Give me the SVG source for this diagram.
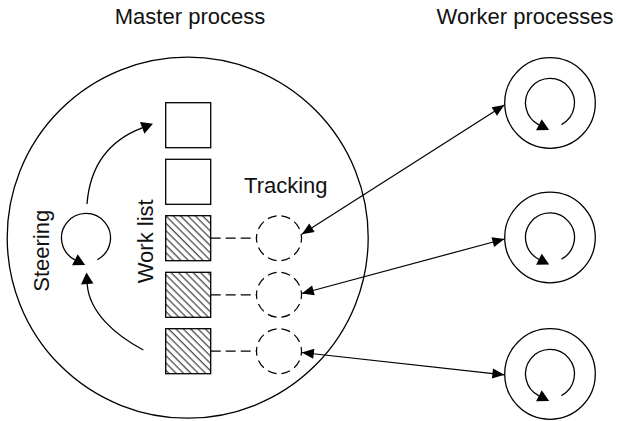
<svg xmlns="http://www.w3.org/2000/svg" width="617" height="421" viewBox="0 0 617 421">
<style>
text{font-family:"Liberation Sans",Arial,sans-serif;font-size:22px;fill:#111}
.ln{fill:none;stroke:#000;stroke-width:1.3}
.box{fill:#fff;stroke:#000;stroke-width:1.3}
.hbox{fill:url(#hatch);stroke:#000;stroke-width:1.3}
.trk{fill:none;stroke:#000;stroke-width:1.2;stroke-dasharray:9 5;stroke-dashoffset:4.5}
.dl{fill:none;stroke:#000;stroke-width:1.2;stroke-dasharray:10 5}
.loop{fill:none;stroke:#000;stroke-width:1.3;marker-end:url(#ah)}
.dbl{fill:none;stroke:#000;stroke-width:1.2;marker-start:url(#tip);marker-end:url(#tip)}
</style>
<defs>
<pattern id="hatch" patternUnits="userSpaceOnUse" width="5.2" height="10" patternTransform="rotate(-45)">
<line x1="1" y1="-1" x2="1" y2="11" stroke="#000" stroke-width="0.9"/>
</pattern>
<marker id="ah" markerUnits="userSpaceOnUse" markerWidth="13" markerHeight="13" refX="0" refY="6.25" orient="auto" overflow="visible">
<path d="M0,0 L11.5,6.25 L0,12.5 z" fill="#000"/>
</marker>
<marker id="tip" markerUnits="userSpaceOnUse" markerWidth="12" markerHeight="10" refX="12" refY="5" orient="auto-start-reverse" overflow="visible">
<path d="M0,0 L12,5 L0,10 z" fill="#000"/>
</marker>
</defs>

<text x="190" y="24.3" text-anchor="middle">Master process</text>
<text x="525" y="24" text-anchor="middle">Worker processes</text>

<g id="master">
<circle class="ln" cx="187.7" cy="237.7" r="180.5"/>
</g>

<g id="steering">
<path class="loop" d="M97.5,259.6 A24.5,24.5 0 1 0 74.9,259.8"/>
<text transform="translate(49.3,250.8) rotate(-90)" text-anchor="middle">Steering</text>
</g>

<g id="worklist">
<text transform="translate(153.3,241.3) rotate(-90)" text-anchor="middle">Work list</text>
<rect id="item1" class="box" x="165.7" y="102.7" width="45" height="45"/>
<rect id="item2" class="box" x="165.7" y="159.3" width="45" height="45"/>
<rect id="item3" class="hbox" x="165.7" y="215.7" width="45" height="45"/>
<rect id="item4" class="hbox" x="165.7" y="272.3" width="45" height="45"/>
<rect id="item5" class="hbox" x="165.7" y="328.7" width="45" height="45"/>
</g>

<g id="tracking">
<text x="285.8" y="192.7" text-anchor="middle">Tracking</text>
<circle id="track1" class="trk" cx="279" cy="238.2" r="22.5" pathLength="140"/>
<circle id="track2" class="trk" cx="279" cy="294.8" r="22.5" pathLength="140"/>
<circle id="track3" class="trk" cx="279" cy="351.2" r="22.5" pathLength="140"/>
</g>

<g id="worker1">
<circle class="ln" cx="550" cy="103" r="45.3"/>
<path class="loop" d="M561.5,124.6 A24.5,24.5 0 1 0 538.9,124.8"/>
</g>
<g id="worker2">
<circle class="ln" cx="550" cy="237.5" r="45.3"/>
<path class="loop" d="M561.5,259.1 A24.5,24.5 0 1 0 538.9,259.3"/>
</g>
<g id="worker3">
<circle class="ln" cx="550" cy="374" r="45.3"/>
<path class="loop" d="M561.5,395.6 A24.5,24.5 0 1 0 538.9,395.8"/>
</g>

<g id="connectors">
<path class="loop" d="M87,204 C90,165 110,140 142.2,127.8"/>
<path class="loop" d="M143.3,350 C115,335 89,312 87.2,284"/>
<line class="dl" x1="210.7" y1="238.2" x2="256.5" y2="238.2"/>
<line class="dl" x1="210.7" y1="294.8" x2="256.5" y2="294.8"/>
<line class="dl" x1="210.7" y1="351.2" x2="256.5" y2="351.2"/>
<line class="dbl" x1="301.8" y1="234.2" x2="504.4" y2="105"/>
<line class="dbl" x1="301.8" y1="293.5" x2="504.4" y2="239"/>
<line class="dbl" x1="301.8" y1="352.5" x2="504.4" y2="374.8"/>
</g>
</svg>
